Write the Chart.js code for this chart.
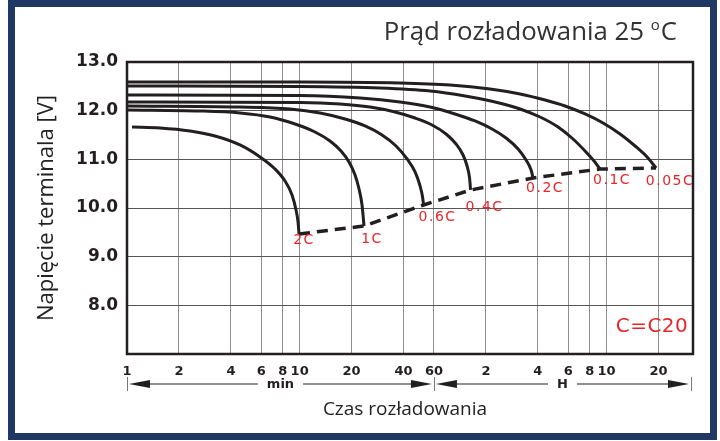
<!DOCTYPE html>
<html lang="pl">
<head>
<meta charset="UTF-8">
<title>Prąd rozładowania 25 °C</title>
<script src="https://cdn.jsdelivr.net/npm/chart.js"></script>
<style>
  body { margin: 0; background: #fff; }
  #wrap { position: relative; width: 720px; height: 441px; }
  #frame {
    position: absolute; left: 8px; top: 0; width: 709px; height: 440px;
    border: 7px solid #1f3864; box-sizing: border-box; pointer-events: none;
  }
</style>
</head>
<body>
<div id="wrap">
  <canvas id="chart"></canvas>
  <div id="frame"></div>
</div>
<script>
// czas w minutach, napięcie w V
const rates = ['2C', '1C', '0.6C', '0.4C', '0.2C', '0.1C', '0.05C'];

const t2C = [1.069, 1.553, 2.318, 3.235, 4.515, 5.897, 7.203, 8.231, 9.037, 9.532, 9.790, 9.922];
const v2C = [11.664, 11.644, 11.582, 11.480, 11.295, 11.048, 10.801, 10.555, 10.267, 9.959, 9.713, 9.466];

const t1C = [1, 2.648, 4.515, 6.739, 9.406, 12.28, 15.00, 17.37, 19.33, 20.94, 22.09, 22.99, 23.61];
const v1C = [12.014, 11.993, 11.952, 11.870, 11.726, 11.562, 11.377, 11.171, 10.945, 10.678, 10.391, 10.062, 9.630];

const t06C = [1, 4.515, 8.799, 13.13, 18.33, 23.93, 30.02, 36.19, 41.91, 46.63, 49.85, 51.54, 52.24];
const v06C = [12.096, 12.075, 12.034, 11.952, 11.829, 11.685, 11.500, 11.274, 11.007, 10.740, 10.452, 10.226, 10.062];

const t04C = [1, 10.05, 17.14, 25.58, 35.71, 46.63, 58.50, 70.50, 80.57, 88.46, 93.31, 96.48, 97.77];
const v04C = [12.178, 12.168, 12.137, 12.075, 11.973, 11.849, 11.706, 11.521, 11.315, 11.089, 10.863, 10.617, 10.370];

const t02C = [1, 10.05, 22.39, 38.17, 56.96, 79.50, 103.8, 130.2, 157.0, 184.3, 205.0, 219.2, 225.1];
const v02C = [12.322, 12.312, 12.260, 12.178, 12.075, 11.932, 11.788, 11.623, 11.438, 11.212, 10.986, 10.781, 10.617];

const t01C = [1, 10.05, 29.23, 56.96, 90.85, 135.6, 189.2, 247.1, 314.2, 383.7, 450.4, 507.9, 550.2];
const v01C = [12.507, 12.497, 12.466, 12.404, 12.301, 12.178, 12.034, 11.870, 11.664, 11.418, 11.171, 10.966, 10.801];

const t005C = [1, 10.05, 38.17, 74.37, 126.8, 189.2, 264.2, 344.9, 450.4, 572.6, 718.3, 877.4, 1030, 1161];
const v005C = [12.589, 12.589, 12.569, 12.527, 12.445, 12.343, 12.219, 12.096, 11.932, 11.747, 11.521, 11.274, 11.048, 10.822];

const xTickValues = [1, 2, 4, 6, 8, 10, 20, 40, 60, 120, 240, 360, 480, 600, 1200];
const xTickLabels = ['1', '2', '4', '6', '8', '10', '20', '40', '60', '2', '4', '6', '8', '10', '20'];
const yTickValues = [8, 9, 10, 11, 12, 13];

const timeSets = [t2C, t1C, t06C, t04C, t02C, t01C, t005C];
const voltSets = [v2C, v1C, v06C, v04C, v02C, v01C, v005C];
const endTimes = timeSets.map(a => a[a.length - 1]);
const endVolts = voltSets.map(a => a[a.length - 1]);

// przesunięcia etykiet względem końca krzywej (px)
const labelShift = [[5, 6], [8, 13], [14, 12], [14, 17], [12, 10], [12, 11], [14, 13]];

const ink = '#231f20';

const datasets = timeSets.map((t, i) => ({
  label: rates[i],
  data: t.map((x, j) => ({ x: x, y: voltSets[i][j] })),
  borderColor: ink,
  borderWidth: 3,
  pointRadius: 0,
  cubicInterpolationMode: 'monotone',
  fill: false
}));
datasets.push({
  label: 'koniec',
  data: endTimes.map((x, i) => ({ x: x, y: endVolts[i] })),
  borderColor: ink,
  borderWidth: 3.5,
  borderDash: [11, 7],
  pointRadius: 0,
  tension: 0,
  fill: false
});

const decor = {
  id: 'decor',
  afterDraw(chart) {
    const { ctx, chartArea: a, scales: { x, y } } = chart;
    ctx.save();

    // ramka wykresu
    ctx.strokeStyle = ink;
    ctx.lineWidth = 2.5;
    ctx.strokeRect(a.left, a.top, a.right - a.left, a.bottom - a.top);

    // etykiety prądów
    ctx.fillStyle = '#e8262a';
    ctx.font = '14px "DejaVu Sans"';
    ctx.letterSpacing = '1.5px';
    ctx.textAlign = 'center';
    ctx.textBaseline = 'middle';
    rates.forEach((r, i) => {
      ctx.fillText(r,
        x.getPixelForValue(endTimes[i]) + labelShift[i][0],
        y.getPixelForValue(endVolts[i]) + labelShift[i][1]);
    });
    ctx.font = '20px "DejaVu Sans"';
    ctx.letterSpacing = '0.5px';
    ctx.fillText('C=C20', 652, 327);
    ctx.letterSpacing = '0px';

    // tytuł
    ctx.fillStyle = '#333';
    ctx.textAlign = 'left';
    ctx.textBaseline = 'alphabetic';
    const big = '25.8px "Open Sans"', small = '15px "Open Sans"';
    const s1 = 'Prąd rozładowania 25 ';
    ctx.font = big; const w1 = ctx.measureText(s1).width, w3 = ctx.measureText('C').width;
    ctx.font = small; const w2 = ctx.measureText('o').width + 1;
    let tx = 677 - (w1 + w2 + w3);
    ctx.font = big; ctx.fillText(s1, tx, 40);
    ctx.font = small; ctx.fillText('o', tx + w1, 30);
    ctx.font = big; ctx.fillText('C', tx + w1 + w2, 40);

    // tytuły osi
    ctx.fillStyle = '#222';
    ctx.font = '19px "Open Sans"';
    ctx.textAlign = 'center';
    ctx.textBaseline = 'middle';
    ctx.fillText('Czas rozładowania', 405, 410);
    ctx.save();
    ctx.translate(47, 208);
    ctx.rotate(-Math.PI / 2);
    ctx.font = '22px "Open Sans"';
    ctx.fillText('Napięcie terminala [V]', 0, 0);
    ctx.restore();

    // strzałki min / H
    const rowY = 384;
    const x0 = x.getPixelForValue(1), x1 = x.getPixelForValue(60), x2 = a.right - 2;
    ctx.strokeStyle = '#777';
    ctx.lineWidth = 1;
    [x0, x1, x2].forEach(px => {
      ctx.beginPath(); ctx.moveTo(px + 0.5, rowY - 7); ctx.lineTo(px + 0.5, rowY + 7); ctx.stroke();
    });
    ctx.font = 'bold 13px "DejaVu Sans"';
    ctx.fillStyle = ink;
    ctx.strokeStyle = ink;
    const arrow = (from, to, text) => {
      const mid = (from + to) / 2;
      const half = ctx.measureText(text).width / 2 + 9;
      ctx.fillText(text, mid, rowY + 1);
      ctx.lineWidth = 1.2;
      ctx.beginPath();
      ctx.moveTo(from + 20, rowY); ctx.lineTo(mid - half, rowY);
      ctx.moveTo(mid + half, rowY); ctx.lineTo(to - 20, rowY);
      ctx.stroke();
      ctx.beginPath();
      ctx.moveTo(from + 2, rowY); ctx.lineTo(from + 23, rowY - 4); ctx.lineTo(from + 23, rowY + 4);
      ctx.closePath(); ctx.fill();
      ctx.beginPath();
      ctx.moveTo(to - 2, rowY); ctx.lineTo(to - 23, rowY - 4); ctx.lineTo(to - 23, rowY + 4);
      ctx.closePath(); ctx.fill();
    };
    arrow(x0, x1, 'min');
    arrow(x1, x2, 'H');

    ctx.restore();
  }
};

new Chart(document.getElementById('chart'), {
  type: 'line',
  data: { datasets: datasets },
  options: {
    responsive: true,
    maintainAspectRatio: false,
    animation: false,
    layout: { padding: { top: 62, right: 27, left: 0, bottom: 0 } },
    plugins: { legend: { display: false }, tooltip: { enabled: false } },
    scales: {
      x: {
        type: 'logarithmic',
        min: 1,
        max: 1900,
        afterBuildTicks: s => { s.ticks = xTickValues.map(v => ({ value: v })); },
        afterFit: s => { s.height = 87; },
        grid: { color: '#8f8f8f', lineWidth: 1, drawTicks: false },
        border: { display: false },
        ticks: {
          autoSkip: false, maxRotation: 0, padding: 10, color: ink,
          font: { family: 'DejaVu Sans', size: 13, weight: 'bold' },
          callback: (v, i) => xTickLabels[i]
        }
      },
      y: {
        min: 7,
        max: 13,
        afterBuildTicks: s => { s.ticks = yTickValues.map(v => ({ value: v })); },
        afterFit: s => { s.width = 127; },
        grid: { color: '#555', lineWidth: 1, drawTicks: false },
        border: { display: false },
        ticks: {
          padding: 9, color: ink,
          font: { family: 'DejaVu Sans', size: 17, weight: 'bold' },
          callback: v => v.toFixed(1)
        }
      }
    }
  },
  plugins: [decor]
});
</script>
</body>
</html>
